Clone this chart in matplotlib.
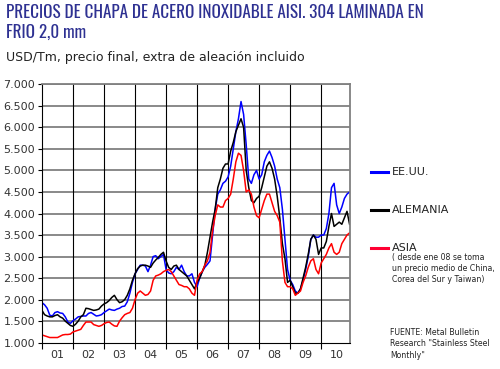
import numpy as np
import matplotlib.pyplot as plt
from matplotlib.ticker import FixedLocator, FuncFormatter

# Precios mensuales (USD/Tm), ene 2001 - dic 2010
eeuu = [1930, 1880, 1800, 1640, 1620, 1700, 1720, 1690, 1680, 1600, 1480, 1450,
        1510, 1550, 1600, 1610, 1620, 1620, 1680, 1700, 1660, 1620, 1630, 1650,
        1700, 1740, 1780, 1760, 1750, 1780, 1800, 1840, 1850, 1950, 2150, 2400,
        2600, 2700, 2800, 2800, 2780, 2650, 2800, 3000, 3020, 2950, 3000, 3050,
        2700, 2620, 2600, 2650, 2750, 2700, 2800, 2650, 2550, 2550, 2600, 2400,
        2300, 2500, 2650, 2750, 2820, 2900, 3500, 4100, 4450, 4550, 4700, 4750,
        4850, 5100, 5500, 5900, 6200, 6600, 6300, 5600, 4800, 4700, 4900, 5000,
        4800, 4900, 5200, 5350, 5450, 5300, 5100, 4800, 4600, 4100, 3400, 2700,
        2450, 2350, 2200, 2150, 2250, 2450, 2700, 3000, 3400, 3500, 3450, 3450,
        3500, 3500, 3650, 4000, 4600, 4700, 4200, 4000, 4150, 4350, 4450, 4500]

alemania = [1750, 1650, 1620, 1600, 1600, 1630, 1650, 1600, 1570, 1500, 1450, 1400,
            1380, 1430, 1500, 1600, 1650, 1800, 1790, 1770, 1750, 1760, 1780, 1850,
            1900, 1930, 1980, 2050, 2100, 2000, 1930, 1950, 2000, 2100, 2250, 2450,
            2600, 2720, 2780, 2800, 2800, 2780, 2750, 2850, 2920, 2980, 3050, 3100,
            2900, 2750, 2700, 2780, 2800, 2700, 2650, 2600, 2550, 2450, 2350, 2250,
            2400, 2500, 2650, 2800, 3100, 3450, 3800, 4100, 4600, 4800, 5050, 5150,
            5150, 5450, 5650, 5900, 6050, 6200, 6000, 5000, 4600, 4300, 4250, 4350,
            4400, 4600, 4850, 5100, 5200, 5050, 4800, 4400, 3900, 3300, 2950, 2400,
            2450, 2300, 2150, 2150, 2250, 2500, 2750, 3050, 3400, 3500, 3400, 3050,
            3200, 3200, 3350, 3700, 4000, 3700, 3750, 3800, 3750, 3900, 4050, 3750]

asia = [1180, 1160, 1140, 1120, 1120, 1120, 1120, 1150, 1180, 1190, 1190, 1200,
        1250, 1270, 1290, 1310, 1400, 1480, 1480, 1480, 1420, 1400, 1380, 1400,
        1440, 1470, 1480, 1430, 1390, 1380, 1500, 1580, 1650, 1680, 1700, 1800,
        2000, 2150, 2200, 2150, 2100, 2120, 2200, 2450, 2550, 2570, 2600, 2650,
        2680, 2700, 2650, 2550, 2450, 2350, 2330, 2300, 2300, 2250, 2150, 2100,
        2450, 2600, 2650, 2800, 2900, 3100, 3600, 3950, 4200, 4150, 4150, 4300,
        4350, 4450, 4800, 5200, 5400, 5350, 5000, 4500, 4550, 4450, 4150, 3950,
        3900, 4100, 4300, 4450, 4450, 4250, 4050, 3950, 3800, 2900, 2400, 2300,
        2300, 2250, 2100, 2150, 2200, 2400, 2550, 2750, 2900, 2950, 2700, 2600,
        2850, 2950, 3050, 3200, 3300, 3100, 3050, 3100, 3300, 3400, 3500, 3550]

anios = ['01', '02', '03', '04', '05', '06', '07', '08', '09', '10']

x = 2001 + np.arange(len(eeuu)) / 12

fig = plt.figure(figsize=(5, 3.69), dpi=100)
ax = fig.add_axes([0.084, 0.0713, 0.616, 0.7002])

ax.plot(x, eeuu, color='#0000ff', lw=1.1)
ax.plot(x, alemania, color='black', lw=1.1)
ax.plot(x, asia, color='#ff0000', lw=1.1)

ax.set_xlim(2001, 2010.93)
ax.set_ylim(1000, 7000)

yt = np.arange(1000, 7001, 500)
ax.set_yticks(yt)
ax.yaxis.set_major_formatter(FuncFormatter(lambda v, p: f'{int(v):,}'.replace(',', '.')))
for v in yt[1:]:
    ax.axhline(v, color='#808080', lw=1.3, zorder=0)

years = np.arange(2001, 2011)
ax.xaxis.set_major_locator(FixedLocator(years))
ax.xaxis.set_minor_locator(FixedLocator(years + 0.5))
ax.set_xticklabels([])
ax.set_xticklabels(anios, minor=True)
for v in years[1:]:
    ax.axvline(v, color='black', lw=0.8, zorder=0)

ax.tick_params(axis='x', which='minor', length=0, pad=5, labelsize=8, labelcolor='#333333')
ax.tick_params(axis='x', which='major', length=4, color='black')
ax.tick_params(axis='y', length=3, labelsize=8, labelcolor='#333333', pad=2)
for s in ['top', 'right']:
    ax.spines[s].set_color('#808080')
    ax.spines[s].set_linewidth(1.3)

fig.text(0.012, 0.99, 'PRECIOS DE CHAPA DE ACERO INOXIDABLE AISI. 304 LAMINADA EN\nFRIO 2,0 mm',
         ha='left', va='top', fontsize=12.3, fontweight='bold', color='#2e3192',
         family=['Oswald', 'Roboto Condensed', 'Liberation Sans Narrow', 'DejaVu Sans'],
         linespacing=1.25)
fig.text(0.012, 0.845, 'USD/Tm, precio final, extra de aleación incluido',
         ha='left', va='center', fontsize=9, color='#222222')

# leyenda
for yy, col, lab in [(171.7, '#0000ff', 'EE.UU.'), (210, 'black', 'ALEMANIA'),
                     (247.7, '#ff0033', 'ASIA')]:
    fy = 1 - yy / 369
    fig.add_artist(plt.Line2D([371 / 500, 388 / 500], [fy, fy], color=col, lw=2.2))
    fig.text(392 / 500, fy, lab, ha='left', va='center', fontsize=8, color='#222222')

fig.text(392 / 500, 1 - 253 / 369,
         '( desde ene 08 se toma\nun precio medio de China,\nCorea del Sur y Taiwan)',
         ha='left', va='top', fontsize=5.6, color='#222222', linespacing=1.3)
fig.text(390 / 500, 1 - 328 / 369,
         'FUENTE: Metal Bulletin\nResearch "Stainless Steel\nMonthly"',
         ha='left', va='top', fontsize=5.6, color='#222222', linespacing=1.35)

fig.savefig('out.png', dpi=100, facecolor='white')
